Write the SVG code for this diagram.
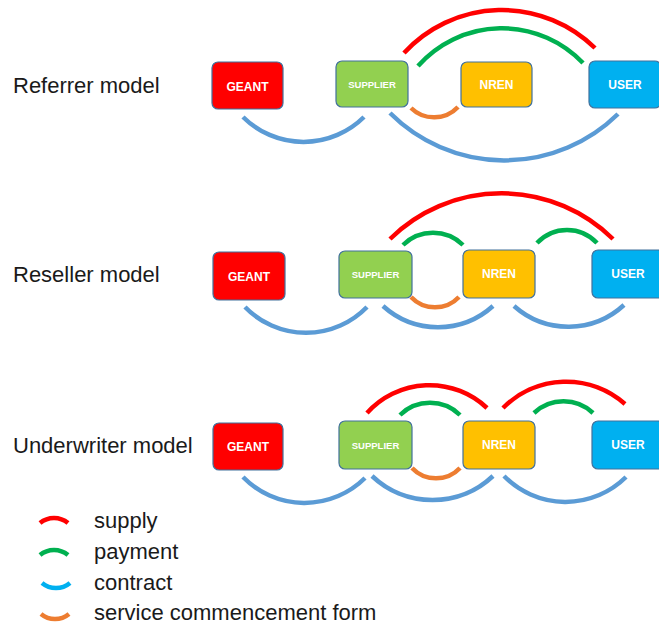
<svg xmlns="http://www.w3.org/2000/svg" width="659" height="626" viewBox="0 0 659 626">
<style>
.lbl{font-family:"Liberation Sans",Arial,sans-serif;font-size:22px;fill:#1a1a1a}
.nt{font-family:"Liberation Sans",Arial,sans-serif;font-weight:bold;fill:#fff;text-anchor:middle}
.box{stroke:#41719C;stroke-width:1.2}
.arc{fill:none;stroke-width:4.5}
.s{stroke:#FF0000}.p{stroke:#00B050}.c{stroke:#5B9BD5}.o{stroke:#ED7D31}.cl{stroke:#00B0F0}
</style>
<rect width="659" height="626" fill="#fff"/>
<text class="lbl" x="13" y="93">Referrer model</text>
<text class="lbl" x="13" y="282">Reseller model</text>
<text class="lbl" x="13" y="453">Underwriter model</text>

<g id="row1">
<g id="geant1"><rect class="box" x="212" y="62" width="71" height="47" rx="6" fill="#FF0000"/><text class="nt" x="247.5" y="91" font-size="12">GEANT</text></g>
<g id="supplier1"><rect class="box" x="336" y="61" width="72" height="46" rx="6" fill="#92D050"/><text class="nt" x="372" y="88" font-size="9.5">SUPPLIER</text></g>
<g id="nren1"><rect class="box" x="461" y="62" width="71" height="45" rx="6" fill="#FFC000"/><text class="nt" x="496.5" y="89" font-size="12">NREN</text></g>
<g id="user1"><rect class="box" x="589" y="61" width="72" height="47" rx="6" fill="#00B0F0"/><text class="nt" x="625" y="89" font-size="12">USER</text></g>
</g>
<g id="row2">
<g id="geant2"><rect class="box" x="213" y="252" width="72" height="48" rx="6" fill="#FF0000"/><text class="nt" x="249" y="281" font-size="12">GEANT</text></g>
<g id="supplier2"><rect class="box" x="339" y="251" width="73" height="47" rx="6" fill="#92D050"/><text class="nt" x="375.5" y="278" font-size="9.5">SUPPLIER</text></g>
<g id="nren2"><rect class="box" x="463" y="250" width="72" height="48" rx="6" fill="#FFC000"/><text class="nt" x="499" y="278" font-size="12">NREN</text></g>
<g id="user2"><rect class="box" x="592" y="250" width="72" height="48" rx="6" fill="#00B0F0"/><text class="nt" x="628" y="278" font-size="12">USER</text></g>
</g>
<g id="row3">
<g id="geant3"><rect class="box" x="213" y="423" width="70" height="47" rx="6" fill="#FF0000"/><text class="nt" x="248" y="451" font-size="12">GEANT</text></g>
<g id="supplier3"><rect class="box" x="339" y="421" width="73" height="48" rx="6" fill="#92D050"/><text class="nt" x="375.5" y="449" font-size="9.5">SUPPLIER</text></g>
<g id="nren3"><rect class="box" x="463" y="421" width="72" height="48" rx="6" fill="#FFC000"/><text class="nt" x="499" y="449" font-size="12">NREN</text></g>
<g id="user3"><rect class="box" x="592" y="421" width="72" height="48" rx="6" fill="#00B0F0"/><text class="nt" x="628" y="449" font-size="12">USER</text></g>
</g>

<g id="connectors">
<!-- row 1 -->
<path class="arc s" d="M404 53 A133 133 0 0 1 595 48"/>
<path class="arc p" d="M418 66 A112 112 0 0 1 583 63"/>
<path class="arc o" d="M411 108 A33 33 0 0 0 458 107"/>
<path class="arc c" d="M243 117 A86 86 0 0 0 364 117"/>
<path class="arc c" d="M390 113 A162 162 0 0 0 618 114"/>
<!-- row 2 -->
<path class="arc s" d="M390 239 A159 159 0 0 1 613 239"/>
<path class="arc p" d="M403 245 A43 43 0 0 1 463 245"/>
<path class="arc p" d="M537 243 A41 41 0 0 1 597 243"/>
<path class="arc o" d="M411 297 A33 33 0 0 0 459 297"/>
<path class="arc c" d="M245 307 A85 85 0 0 0 367 307"/>
<path class="arc c" d="M383 306 A82 82 0 0 0 493 306"/>
<path class="arc c" d="M514 306 A82 82 0 0 0 624 305"/>
<!-- row 3 -->
<path class="arc s" d="M367 413 A84 84 0 0 1 487 408"/>
<path class="arc s" d="M503 408 A89 89 0 0 1 625 404"/>
<path class="arc p" d="M400 415 A43 43 0 0 1 460 415"/>
<path class="arc p" d="M534 413 A43 43 0 0 1 593 413"/>
<path class="arc o" d="M412 468 A33 33 0 0 0 460 468"/>
<path class="arc c" d="M243 477 A86 86 0 0 0 365 478"/>
<path class="arc c" d="M372 476 A88 88 0 0 0 493 476"/>
<path class="arc c" d="M504 476 A86 86 0 0 0 626 477"/>
</g>

<g id="legend">
<path class="arc s" d="M40 523 A22 22 0 0 1 68 523"/>
<path class="arc p" d="M40 555 A22 22 0 0 1 68 555"/>
<path class="arc cl" d="M42 583 A22 22 0 0 0 70 583"/>
<path class="arc o" d="M41 614 A22 22 0 0 0 69 614"/>
<text class="lbl" x="94" y="528">supply</text>
<text class="lbl" x="94" y="559">payment</text>
<text class="lbl" x="94" y="590">contract</text>
<text class="lbl" x="94" y="620">service commencement form</text>
</g>
</svg>
